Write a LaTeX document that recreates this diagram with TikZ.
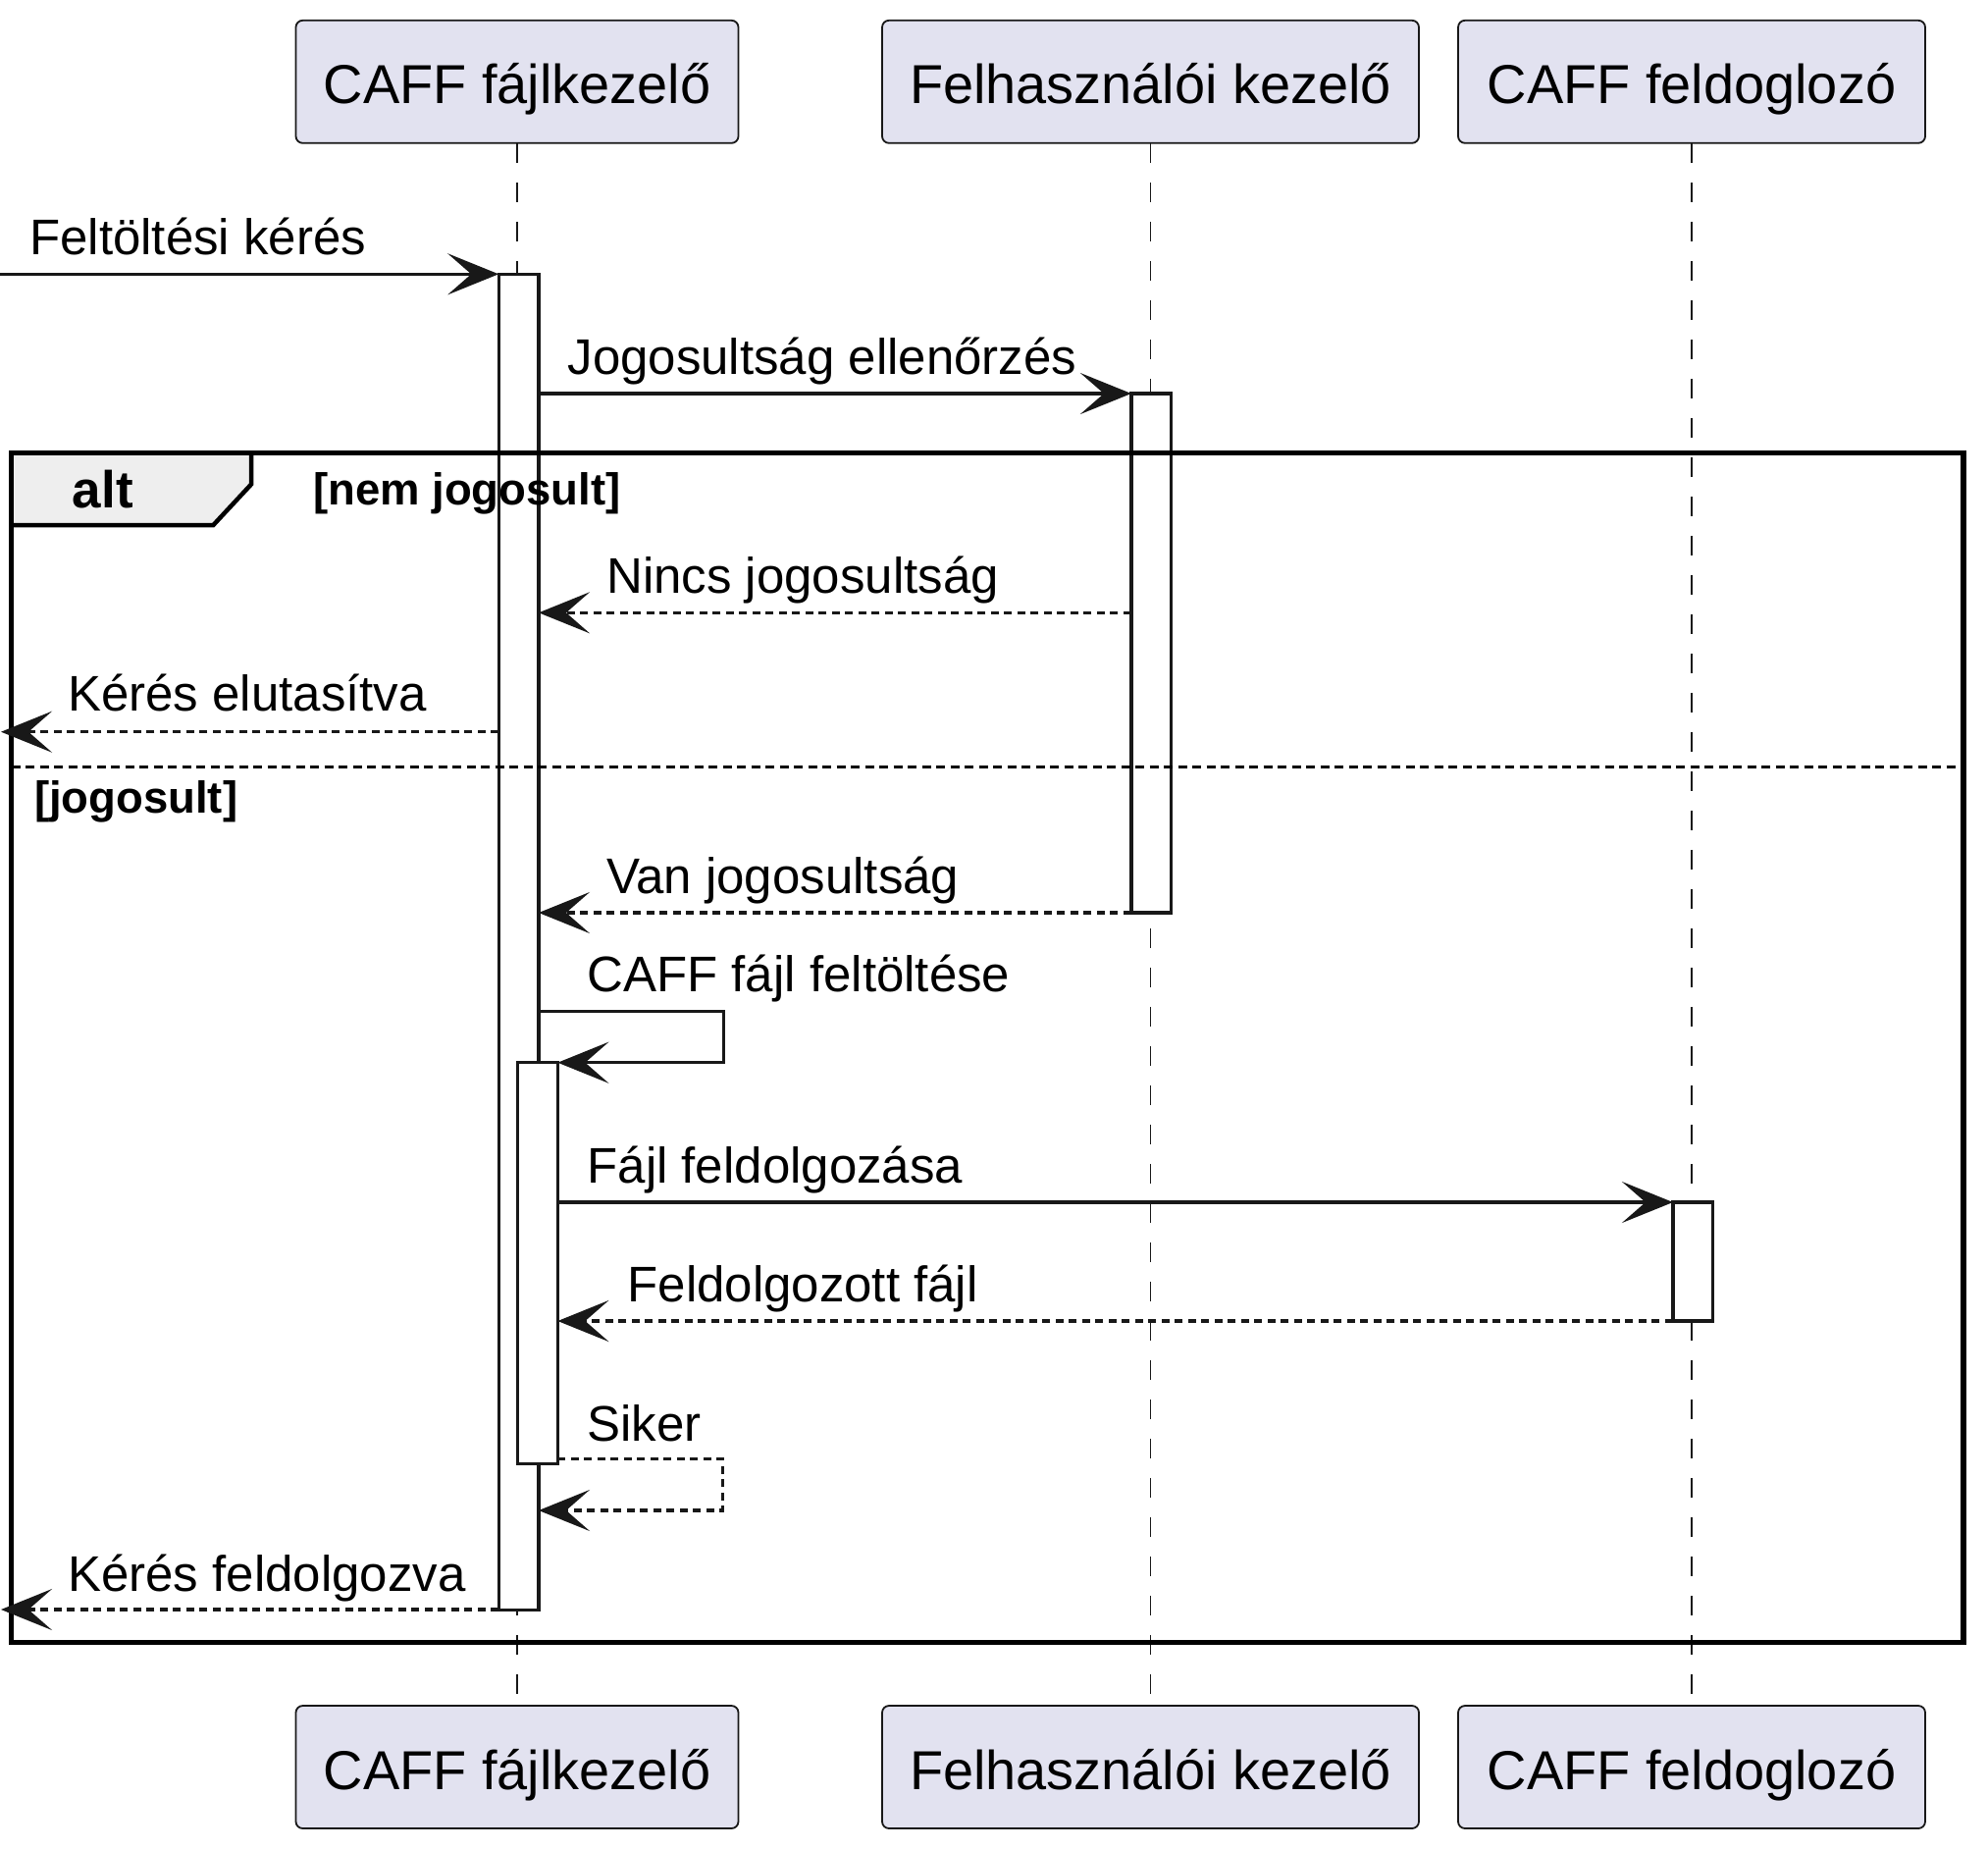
\documentclass[tikz,border=0pt]{standalone}
\usepackage{fontspec}
\setmainfont{Liberation Sans}
\usetikzlibrary{arrows.meta}
\definecolor{pfill}{HTML}{E2E2F0}
\definecolor{ln}{HTML}{181818}
\definecolor{tabfill}{HTML}{EEEEEE}
\begin{document}
\begin{tikzpicture}[x=1pt,y=-1pt,
  participant/.style={draw=ln, fill=pfill, line width=1.8pt, rounded corners=7pt,
    minimum height=125pt, inner sep=0pt, outer sep=0pt, text height=45pt, text depth=0pt,
    font=\fontsize{55.9}{60}\selectfont},
  lifeline/.style={draw=ln, line width=1.8pt, dash pattern=on 20pt off 20pt},
  actbar/.style={draw=ln, fill=white, line width=3.4pt, minimum width=40.7pt,
    inner sep=0pt, outer sep=0pt},
  msg/.style={draw=ln, line width=3.5pt, -{Stealth[length=52pt,width=42pt,inset=24pt]}},
  ret/.style={msg, dash pattern=on 8pt off 5.5pt},
  msglbl/.style={anchor=base west, inner sep=0pt, font=\fontsize{51}{55}\selectfont},
  guard/.style={anchor=base west, inner sep=0pt, font=\bfseries\fontsize{45.5}{50}\selectfont},
  sepline/.style={draw=black, line width=3.5pt, dash pattern=on 9pt off 5.5pt},
]
\useasboundingbox (0,0) rectangle (2026,1883);

% participants
\node[participant, minimum width=451pt] (p1) at (527,83.3) {CAFF fájlkezelő};
\node[participant, minimum width=547pt] (p2) at (1172.5,83.3) {Felhasználói kezelő};
\node[participant, minimum width=476pt] (p3) at (1724,83.3) {CAFF feldoglozó};
\node[participant, minimum width=451pt] (q1) at (527,1800.5) {CAFF fájlkezelő};
\node[participant, minimum width=547pt] (q2) at (1172.5,1800.5) {Felhasználói kezelő};
\node[participant, minimum width=476pt] (q3) at (1724,1800.5) {CAFF feldoglozó};

% lifelines
\draw[lifeline] (p1.south) -- (q1.north);
\draw[lifeline] (p2.south) -- (q2.north);
\draw[lifeline] (p3.south) -- (q3.north);

% activation bars
\node[actbar, minimum height=1361.4pt, anchor=north] (b1) at (528.6,279.3) {};
\node[actbar, minimum height=529pt, anchor=north] (b2) at (1173.3,401) {};
\node[actbar, minimum height=409pt, anchor=north] (b1b) at (548,1082.7) {};
\node[actbar, minimum height=121pt, anchor=north] (b3) at (1725.3,1225) {};

% alt frame
\draw[fill=tabfill, draw=black, line width=4.5pt] (11.6,461.7) -- (256,461.7) -- (256,493.5)
  -- (217.4,535) -- (11.6,535) -- cycle;
\draw[black, line width=5.5pt] (11.6,461.7) rectangle (2001,1673.3);
\node[anchor=base west, inner sep=0pt, font=\bfseries\fontsize{53}{58}\selectfont] (alt) at (73.7,517.5) {alt};
\node[guard] (g1) at (319,514.5) {[nem jogosult]};
\coordinate (sepL) at (11.6,781.7);
\coordinate (sepR) at (2001,781.7);
\draw[sepline] (sepL) -- (sepR);
\node[guard] (g2) at (34.8,828.5) {[jogosult]};

% messages
\coordinate (in1) at (0,279.3);
\draw[msg] (in1) -- (b1.west |- in1);
\node[msglbl] (t1) at (30,259.3) {Feltöltési kérés};

\draw[msg] (b1.east |- b2.north) -- (b2.north west);
\node[msglbl] (t2) at (578.3,381) {Jogosultság ellenőrzés};

\coordinate (m3) at (0,624.3);
\draw[ret] (b2.west |- m3) -- (b1.east |- m3);
\node[msglbl] (t3) at (618,604) {Nincs jogosultság};

\coordinate (out1) at (1,745.7);
\draw[ret] (b1.west |- out1) -- (out1);
\node[msglbl] (t4) at (69,724) {Kérés elutasítva};

\draw[ret] (b2.south west) -- (b1.east |- b2.south);
\node[msglbl] (t5) at (618,910) {Van jogosultság};

\coordinate (s1a) at (737.3,1030.7);
\coordinate (s1b) at (737.3,1082.7);
\draw[msg] (b1.east |- s1a) -- (s1a) -- (s1b) -- (b1b.north east);
\node[msglbl] (t6) at (598.3,1010.7) {CAFF fájl feltöltése};

\draw[msg] (b1b.east |- b3.north) -- (b3.north west);
\node[msglbl] (t7) at (598.3,1205) {Fájl feldolgozása};

\draw[ret] (b3.south west) -- (b1b.east |- b3.south);
\node[msglbl] (t8) at (639.3,1326) {Feldolgozott fájl};

\coordinate (s2a) at (736.7,1486.7);
\coordinate (s2b) at (736.7,1539);
\draw[ret] (b1b.east |- s2a) -- (s2a) -- (s2b) -- (b1.east |- s2b);
\node[msglbl] (t9) at (598.3,1468.3) {Siker};

\coordinate (out2) at (1,1640);
\draw[ret] (b1.west |- out2) -- (out2);
\node[msglbl] (t10) at (69,1621.7) {Kérés feldolgozva};
\end{tikzpicture}
\end{document}
